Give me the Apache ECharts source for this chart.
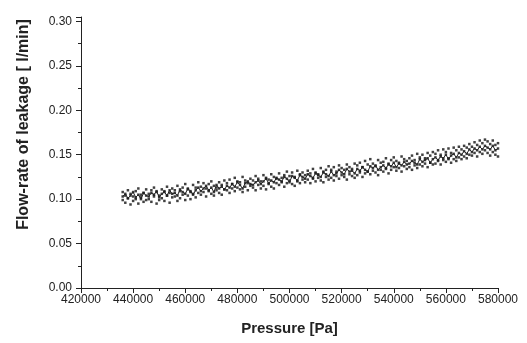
<!DOCTYPE html>
<html>
<head>
<meta charset="utf-8">
<script src="https://cdn.jsdelivr.net/npm/echarts@6/dist/echarts.min.js"></script>
<style>
html,body{margin:0;padding:0;background:#fff;}
#chart{width:527px;height:343px;}
</style>
</head>
<body>
<div id="chart"></div>
<script>
var xTicks = [420000, 440000, 460000, 480000, 500000, 520000, 540000, 560000, 580000];
var yTicks = ['0.00', '0.05', '0.10', '0.15', '0.20', '0.25', '0.30'];

var pressure = [
436000,437000,438000,439000,440000,441000,442000,443000,444000,445000,
446000,447000,448000,449000,450000,451000,452000,453000,454000,455000,
456000,457000,458000,459000,460000,461000,462000,463000,464000,465000,
466000,467000,468000,469000,470000,471000,472000,473000,474000,475000,
476000,477000,478000,479000,480000,481000,482000,483000,484000,485000,
486000,487000,488000,489000,490000,491000,492000,493000,494000,495000,
496000,497000,498000,499000,500000,501000,502000,503000,504000,505000,
506000,507000,508000,509000,510000,511000,512000,513000,514000,515000,
516000,517000,518000,519000,520000,521000,522000,523000,524000,525000,
526000,527000,528000,529000,530000,531000,532000,533000,534000,535000,
536000,537000,538000,539000,540000,541000,542000,543000,544000,545000,
546000,547000,548000,549000,550000,551000,552000,553000,554000,555000,
556000,557000,558000,559000,560000,561000,562000,563000,564000,565000,
566000,567000,568000,569000,570000,571000,572000,573000,574000,575000,
576000,577000,578000,579000,580000
];

var flowUpper = [
0.108,0.104,0.110,0.106,0.103,0.109,0.112,0.105,0.107,0.111,
0.106,0.110,0.113,0.108,0.104,0.111,0.109,0.114,0.107,0.112,
0.110,0.115,0.109,0.113,0.117,0.111,0.108,0.116,0.113,0.119,
0.114,0.118,0.112,0.117,0.120,0.115,0.113,0.119,0.116,0.121,
0.118,0.122,0.117,0.124,0.120,0.119,0.125,0.121,0.118,0.123,
0.121,0.126,0.123,0.120,0.127,0.124,0.122,0.128,0.125,0.123,
0.129,0.124,0.127,0.131,0.126,0.130,0.125,0.132,0.128,0.130,
0.127,0.132,0.129,0.134,0.130,0.128,0.135,0.131,0.133,0.137,
0.133,0.136,0.131,0.138,0.135,0.133,0.139,0.136,0.134,0.140,
0.138,0.141,0.136,0.143,0.139,0.145,0.140,0.137,0.144,0.141,
0.142,0.146,0.140,0.144,0.147,0.143,0.141,0.148,0.145,0.143,
0.146,0.149,0.144,0.151,0.147,0.150,0.146,0.152,0.149,0.153,
0.151,0.155,0.150,0.156,0.153,0.157,0.152,0.158,0.155,0.159,
0.156,0.160,0.158,0.162,0.159,0.164,0.161,0.166,0.163,0.167,
0.165,0.162,0.166,0.161,0.163
];

var flowMid = [
0.103,0.106,0.101,0.104,0.108,0.102,0.105,0.100,0.107,0.104,
0.103,0.107,0.105,0.109,0.102,0.106,0.108,0.104,0.110,0.106,
0.107,0.104,0.111,0.108,0.106,0.112,0.109,0.105,0.110,0.113,
0.109,0.112,0.115,0.110,0.113,0.108,0.116,0.112,0.114,0.111,
0.115,0.113,0.117,0.114,0.119,0.116,0.112,0.118,0.120,0.117,
0.116,0.119,0.121,0.117,0.120,0.123,0.118,0.121,0.119,0.124,
0.122,0.120,0.125,0.123,0.119,0.126,0.124,0.121,0.127,0.125,
0.123,0.128,0.126,0.124,0.129,0.127,0.125,0.130,0.128,0.126,
0.131,0.127,0.129,0.133,0.130,0.128,0.134,0.131,0.132,0.129,
0.134,0.132,0.136,0.133,0.131,0.137,0.135,0.138,0.133,0.136,
0.138,0.135,0.139,0.137,0.141,0.136,0.140,0.138,0.142,0.139,
0.140,0.143,0.141,0.139,0.145,0.142,0.144,0.146,0.141,0.145,
0.147,0.144,0.148,0.146,0.150,0.145,0.149,0.151,0.147,0.152,
0.150,0.154,0.151,0.156,0.153,0.157,0.155,0.159,0.156,0.160,
0.158,0.156,0.160,0.155,0.157
];

var flowLower = [
0.099,0.096,0.101,0.094,0.098,0.100,0.095,0.102,0.097,0.099,
0.100,0.097,0.103,0.095,0.099,0.101,0.098,0.104,0.096,0.102,
0.103,0.098,0.101,0.105,0.099,0.104,0.100,0.106,0.102,0.107,
0.105,0.108,0.103,0.109,0.106,0.104,0.110,0.107,0.105,0.111,
0.110,0.107,0.112,0.109,0.113,0.111,0.108,0.114,0.110,0.115,
0.113,0.110,0.116,0.112,0.115,0.111,0.117,0.114,0.112,0.118,
0.116,0.119,0.114,0.118,0.121,0.117,0.115,0.120,0.118,0.122,
0.119,0.122,0.118,0.123,0.120,0.124,0.121,0.119,0.125,0.122,
0.124,0.121,0.126,0.123,0.127,0.125,0.122,0.128,0.126,0.124,
0.127,0.130,0.125,0.129,0.131,0.128,0.132,0.130,0.127,0.133,
0.131,0.134,0.129,0.133,0.136,0.132,0.135,0.131,0.137,0.134,
0.136,0.133,0.138,0.135,0.139,0.137,0.140,0.136,0.141,0.139,
0.140,0.143,0.139,0.144,0.142,0.146,0.141,0.145,0.143,0.147,
0.145,0.148,0.146,0.150,0.149,0.152,0.148,0.153,0.151,0.155,
0.152,0.149,0.153,0.150,0.148
];

function pairs(xs, ys) {
  var out = [];
  for (var i = 0; i < xs.length; i++) out.push([xs[i], ys[i]]);
  return out;
}

var chart = echarts.init(document.getElementById('chart'), null, {renderer: 'canvas'});
var font = 'Liberation Sans, Arial, sans-serif';
function scatterSeries(ys, size) {
  return {type: 'scatter', data: pairs(pressure, ys), symbol: 'rect', symbolSize: size,
    itemStyle: {color: '#111'}, silent: true};
}
chart.setOption({
  animation: false,
  backgroundColor: '#fff',
  grid: {left: 81, right: 29, top: 17, bottom: 55},
  xAxis: {
    type: 'value',
    min: xTicks[0], max: xTicks[xTicks.length - 1], interval: 20000,
    name: 'Pressure [Pa]', nameLocation: 'middle', nameGap: 33,
    nameTextStyle: {fontFamily: font, fontSize: 15, fontWeight: 'bold', color: '#222'},
    axisLine: {show: true, lineStyle: {color: '#222', width: 1}},
    axisTick: {show: true, length: 5, lineStyle: {color: '#222'}},
    minorTick: {show: true, splitNumber: 2, length: 3, lineStyle: {color: '#222'}},
    axisLabel: {fontFamily: font, fontSize: 12, color: '#222', margin: 6,
      formatter: function (v) { return String(v); }},
    splitLine: {show: false}
  },
  yAxis: {
    type: 'value',
    min: 0, max: 0.305, interval: 0.05,
    name: 'Flow-rate of leakage [ l/min]', nameLocation: 'middle', nameGap: 49,
    nameTextStyle: {fontFamily: font, fontSize: 16, fontWeight: 'bold', color: '#222',
      padding: [0, 0, 0, 56]},
    axisLine: {show: true, lineStyle: {color: '#222', width: 1}},
    axisTick: {show: true, length: 5, lineStyle: {color: '#222'}},
    minorTick: {show: true, splitNumber: 2, length: 3, lineStyle: {color: '#222'}},
    axisLabel: {fontFamily: font, fontSize: 12, color: '#222', margin: 9,
      formatter: function (v) { var s = v.toFixed(2); return yTicks.indexOf(s) >= 0 ? s : ''; }},
    splitLine: {show: false}
  },
  series: [
    {type: 'line', data: pairs(pressure, flowMid), showSymbol: false,
     lineStyle: {color: '#222', width: 1}, silent: true},
    scatterSeries(flowUpper, 2.5),
    scatterSeries(flowMid, 2.5),
    scatterSeries(flowLower, 2.5)
  ]
});
</script>
</body>
</html>
